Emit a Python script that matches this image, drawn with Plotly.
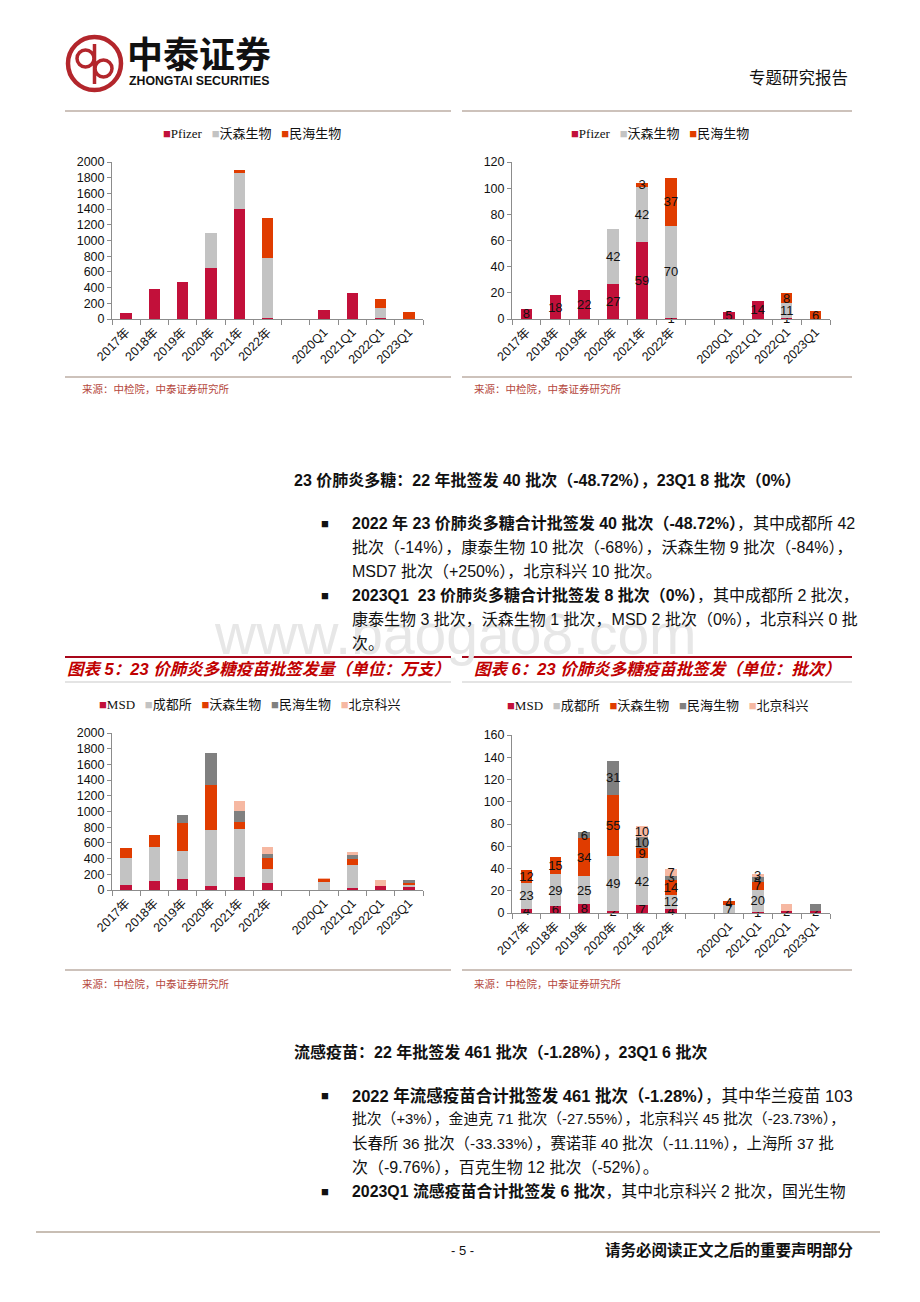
import plotly.graph_objects as go

W, H = 920, 1302


def X(px):
    return px / W


def Y(py):
    return 1 - py / H


# ---------------- data ----------------
categories = ["2017年", "2018年", "2019年", "2020年", "2021年", "2022年", " ",
              "2020Q1", "2021Q1", "2022Q1", "2023Q1"]

# 13价肺炎结合疫苗 批签发量 (万支)
pcv13_names = ["Pfizer", "沃森生物", "民海生物"]
pcv13_colors = ["#C2103A", "#C3C3C3", "#E03C00"]
pcv13_dose_pfizer = [73, 387, 477, 645, 1406, 18, None, 120, 335, 18, None]
pcv13_dose_walvax = [None, None, None, 447, 452, 756, None, None, None, 128, None]
pcv13_dose_minhai = [None, None, None, None, 39, 512, None, None, None, 108, 86]

# 13价肺炎结合疫苗 批签发 (批次)
pcv13_batch_pfizer = [8, 18, 22, 27, 59, 1, None, 5, 14, 1, None]
pcv13_batch_walvax = [None, None, None, 42, 42, 70, None, None, None, 11, None]
pcv13_batch_minhai = [None, None, None, None, 3, 37, None, None, None, 8, 6]

# 23价肺炎多糖疫苗 批签发量 (万支)
ppv23_names = ["MSD", "成都所", "沃森生物", "民海生物", "北京科兴"]
ppv23_colors = ["#C2103A", "#C3C3C3", "#E03C00", "#808080", "#F6B8A2"]
ppv23_dose_msd = [69, 116, 142, 47, 168, 90, None, None, 26, 47, 40]
ppv23_dose_chengdu = [340, 430, 353, 714, 606, 181, None, 105, 288, None, 34]
ppv23_dose_walvax = [120, 155, 357, 572, 95, 142, None, 40, 77, None, 10]
ppv23_dose_minhai = [None, None, 98, 409, 133, 43, None, None, 52, None, 38]
ppv23_dose_sinovac = [None, None, None, None, 129, 95, None, 5, 43, 82, None]

# 23价肺炎多糖疫苗 批签发 (批次)
ppv23_batch_msd = [4, 6, 8, 2, 7, 4, None, None, 1, 2, 2]
ppv23_batch_chengdu = [23, 29, 25, 49, 42, 12, None, 7, 20, None, None]
ppv23_batch_walvax = [12, 15, 34, 55, 9, 14, None, 4, 7, None, None]
ppv23_batch_minhai = [None, None, 6, 31, 10, 3, None, None, 4, None, 6]
ppv23_batch_sinovac = [None, None, None, None, 10, 7, None, None, 3, 6, None]
# labels that are not printed in the original (series index, category index)
ppv23_batch_hidden = {(4, 9), (3, 10)}

SANS = "Liberation Sans, Arial, Noto Sans CJK SC, sans-serif"
SERIF = "Liberation Serif, Times New Roman, Noto Sans CJK SC, serif"
CJK = "Liberation Sans, Noto Sans CJK SC, sans-serif"

fig = go.Figure()


def add_stack(idx, names, colors, series, labels=False, hidden=()):
    xa = "x" if idx == 1 else f"x{idx}"
    ya = "y" if idx == 1 else f"y{idx}"
    for si, (name, color, vals) in enumerate(zip(names, colors, series)):
        kw = {}
        if labels:
            kw = dict(
                text=["" if (v is None or (si, j) in hidden) else str(v)
                      for j, v in enumerate(vals)],
                textposition="inside",
                insidetextanchor="middle",
                constraintext="none",
                textangle=0,
                textfont=dict(color="#111111", size=13, family=SANS),
            )
        fig.add_trace(go.Bar(
            x=categories, y=vals, name=name,
            marker=dict(color=color, line=dict(width=0)),
            xaxis=xa, yaxis=ya, showlegend=False, cliponaxis=False,
            hoverinfo="x+y+name", **kw))


add_stack(1, pcv13_names, pcv13_colors,
          [pcv13_dose_pfizer, pcv13_dose_walvax, pcv13_dose_minhai])
add_stack(2, pcv13_names, pcv13_colors,
          [pcv13_batch_pfizer, pcv13_batch_walvax, pcv13_batch_minhai], labels=True)
add_stack(3, ppv23_names, ppv23_colors,
          [ppv23_dose_msd, ppv23_dose_chengdu, ppv23_dose_walvax,
           ppv23_dose_minhai, ppv23_dose_sinovac])
add_stack(4, ppv23_names, ppv23_colors,
          [ppv23_batch_msd, ppv23_batch_chengdu, ppv23_batch_walvax,
           ppv23_batch_minhai, ppv23_batch_sinovac], labels=True,
          hidden=ppv23_batch_hidden)

AXC = "#8C8C8C"


def xaxis_cfg(x0, x1, anchor):
    return dict(domain=[X(x0), X(x1)], anchor=anchor, type="category",
                categoryorder="array", categoryarray=categories,
                tickangle=-45, ticks="outside", tickson="boundaries",
                ticklen=5, tickcolor=AXC, showline=True, linecolor=AXC,
                linewidth=1, showgrid=False, zeroline=False, automargin=False,
                tickfont=dict(size=12.5, family=CJK, color="#111111"))


def yaxis_cfg(y_top, y_bot, anchor, rmax, dt):
    return dict(domain=[Y(y_bot), Y(y_top)], anchor=anchor, range=[0, rmax],
                dtick=dt, tick0=0, tickformat="d", ticks="outside", ticklen=4,
                tickcolor=AXC, showline=True, linecolor=AXC, linewidth=1,
                showgrid=False, zeroline=False, automargin=False,
                tickfont=dict(size=12.5, family=SANS, color="#111111"))


fig.update_layout(
    width=W, height=H,
    margin=dict(l=0, r=0, t=0, b=0, pad=0, autoexpand=False),
    paper_bgcolor="white", plot_bgcolor="white",
    barmode="stack", bargap=0.6, showlegend=False,
    font=dict(family=CJK, color="#111111"),
    xaxis=xaxis_cfg(112, 423, "y"),
    yaxis=yaxis_cfg(162, 319, "x", 2000, 200),
    xaxis2=xaxis_cfg(512, 830, "y2"),
    yaxis2=yaxis_cfg(162, 319, "x2", 120, 20),
    xaxis3=xaxis_cfg(112, 423, "y3"),
    yaxis3=yaxis_cfg(733, 890, "x3", 2000, 200),
    xaxis4=xaxis_cfg(512, 830, "y4"),
    yaxis4=yaxis_cfg(735, 913, "x4", 160, 20),
)

shapes = []
annotations = []


def hline(x0, x1, y, color, width):
    shapes.append(dict(type="line", xref="paper", yref="paper",
                       x0=X(x0), x1=X(x1), y0=Y(y), y1=Y(y),
                       line=dict(color=color, width=width)))


def text(x, y, s, size=16, color="#111111", family=CJK, anchor="left"):
    annotations.append(dict(xref="paper", yref="paper", x=X(x), y=Y(y),
                            text=s, showarrow=False, xanchor=anchor,
                            yanchor="middle", align=anchor,
                            font=dict(size=size, color=color, family=family)))


# watermark
text(212, 634, "www.baogao8.com", size=57, color="#E7E7E7", family=SANS)

# header
LOGO = "#B3262C"
shapes.append(dict(type="circle", xref="paper", yref="paper",
                   x0=X(68), x1=X(121), y0=Y(37), y1=Y(90),
                   line=dict(color=LOGO, width=4.5)))
shapes.append(dict(type="circle", xref="paper", yref="paper",
                   x0=X(77), x1=X(94), y0=Y(50), y1=Y(67),
                   line=dict(color=LOGO, width=3.5)))
shapes.append(dict(type="circle", xref="paper", yref="paper",
                   x0=X(95), x1=X(112), y0=Y(60), y1=Y(77),
                   line=dict(color=LOGO, width=3.5)))
shapes.append(dict(type="line", xref="paper", yref="paper",
                   x0=X(94.5), x1=X(94.5), y0=Y(44), y1=Y(84),
                   line=dict(color=LOGO, width=3.5)))
text(125, 56, "<b>中泰证券</b>", size=36, color="#111111", family=CJK)
text(127, 81, "<b>ZHONGTAI SECURITIES</b>", size=12.3, color="#111111", family=SANS)
text(850, 78, "专题研究报告", size=16.5, color="#111111", family=CJK, anchor="right")

LINE_C = "#BCAEA4"
hline(65, 451, 111, LINE_C, 1.6)
hline(462, 852, 111, LINE_C, 1.6)


def legend(x, y, names, colors):
    parts = [f"<span style='color:{c}'>■</span>{n}" for n, c in zip(names, colors)]
    text(x, y, "   ".join(parts), size=13, family=SERIF)


legend(161, 133, pcv13_names, pcv13_colors)
legend(569, 133, pcv13_names, pcv13_colors)
legend(97, 704, ppv23_names, ppv23_colors)
legend(505, 706, ppv23_names, ppv23_colors)

# source lines
SRC_C = "#B5473C"
hline(65, 451, 377, LINE_C, 1.6)
hline(462, 852, 377, LINE_C, 1.6)
text(80, 389, "来源：中检院，中泰证券研究所", size=10.5, color=SRC_C)
text(472, 389, "来源：中检院，中泰证券研究所", size=10.5, color=SRC_C)
hline(65, 451, 970, LINE_C, 1.6)
hline(462, 852, 970, LINE_C, 1.6)
text(80, 984, "来源：中检院，中泰证券研究所", size=10.5, color=SRC_C)
text(472, 984, "来源：中检院，中泰证券研究所", size=10.5, color=SRC_C)

# section 1
text(292, 480, "<b>23 价肺炎多糖：22 年批签发 40 批次（-48.72%），23Q1 8 批次（0%）</b>", size=16)
BUL_X, TXT_X = 319, 350
text(BUL_X, 523, "■", size=13)
text(TXT_X, 523, "<b>2022 年 23 价肺炎多糖合计批签发 40 批次（-48.72%）</b>，其中成都所 42")
text(TXT_X, 547, "批次（-14%），康泰生物 10 批次（-68%），沃森生物 9 批次（-84%），")
text(TXT_X, 571, "MSD7 批次（+250%），北京科兴 10 批次。")
text(BUL_X, 595, "■", size=13)
text(TXT_X, 595, "<b>2023Q1  23 价肺炎多糖合计批签发 8 批次（0%）</b>，其中成都所 2 批次，")
text(TXT_X, 619, "康泰生物 3 批次，沃森生物 1 批次，MSD 2 批次（0%），北京科兴 0 批")
text(TXT_X, 643, "次。")

# chart titles
TITLE_C = "#C00000"
hline(65, 451, 657, "#A8071A", 2.2)
hline(462, 852, 657, "#A8071A", 2.2)
hline(65, 451, 682, "#C9C9C9", 1)
hline(462, 852, 682, "#C9C9C9", 1)
text(65, 669, "<b><i>图表 5：23 价肺炎多糖疫苗批签发量（单位：万支）</i></b>", size=16.5, color=TITLE_C)
text(472, 669, "<b><i>图表 6：23 价肺炎多糖疫苗批签发（单位：批次）</i></b>", size=16.5, color=TITLE_C)

# section 2
text(292, 1052, "<b>流感疫苗：22 年批签发 461 批次（-1.28%），23Q1 6 批次</b>", size=16)
text(BUL_X, 1095, "■", size=13)
text(TXT_X, 1095, "<b>2022 年流感疫苗合计批签发 461 批次（-1.28%）</b>，其中华兰疫苗 103", size=16.5)
text(TXT_X, 1119, "批次（+3%），金迪克 71 批次（-27.55%），北京科兴 45 批次（-23.73%），", size=14.8)
text(TXT_X, 1143, "长春所 36 批次（-33.33%），赛诺菲 40 批次（-11.11%），上海所 37 批", size=15.4)
text(TXT_X, 1167, "次（-9.76%），百克生物 12 批次（-52%）。")
text(BUL_X, 1191, "■", size=13)
text(TXT_X, 1191, "<b>2023Q1 流感疫苗合计批签发 6 批次</b>，其中北京科兴 2 批次，国光生物", size=15.9)

# footer
hline(36, 880, 1232, "#C8BEB4", 2)
text(462, 1250, "- 5 -", size=13, anchor="center")
text(856, 1250, "<b>请务必阅读正文之后的重要声明部分</b>", size=15.5, anchor="right")

fig.update_layout(shapes=shapes, annotations=annotations)
fig.write_html(
    "out.html",
    config={"displayModeBar": False},
    post_script="document.body.style.margin='0';"
                "document.documentElement.style.overflow='hidden';",
)
